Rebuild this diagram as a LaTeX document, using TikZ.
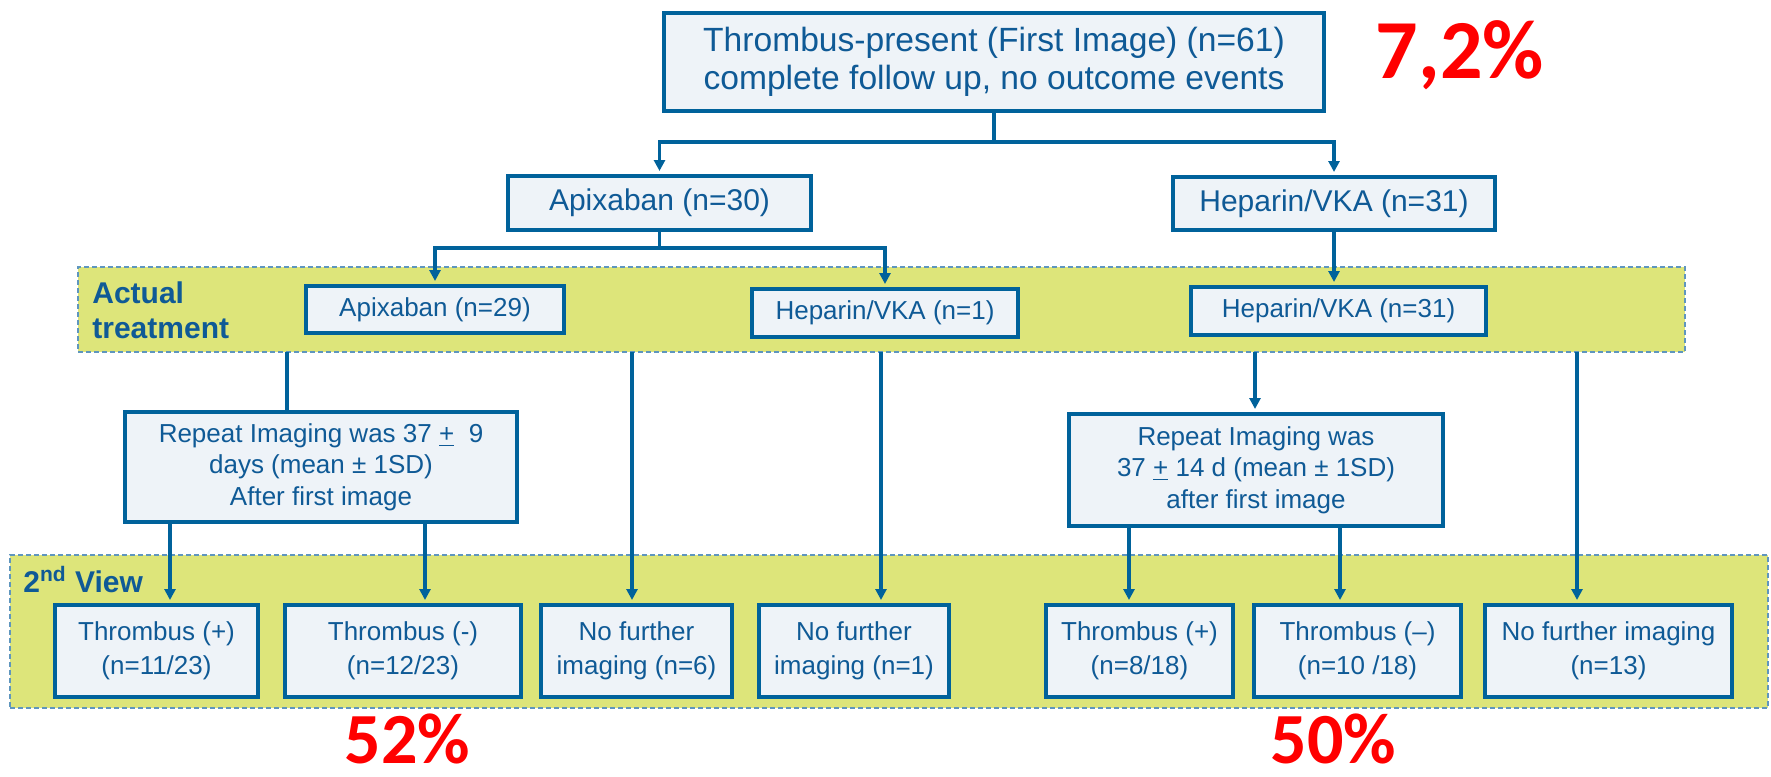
\documentclass[tikz,border=0pt]{standalone}
\usepackage{fontspec}
\setmainfont{Liberation Sans}
\newfontfamily\redfont{Carlito}
\usetikzlibrary{arrows.meta,calc}
\definecolor{bdr}{RGB}{0,98,155}
\definecolor{txt}{RGB}{15,90,150}
\definecolor{boxfill}{RGB}{238,243,248}
\definecolor{bandfill}{RGB}{221,229,122}
\definecolor{banddash}{RGB}{95,150,190}
\definecolor{pct}{RGB}{255,0,0}
\begin{document}
\begin{tikzpicture}[x=0.5pt,y=-0.5pt,
 box/.style={draw=bdr, line width=2pt, fill=boxfill, text=txt, inner sep=0pt, align=center},
 band/.style={draw=banddash, line width=0.8pt, dash pattern=on 2.5pt off 1.5pt, fill=bandfill, inner sep=0pt},
 conn/.style={draw=bdr, line width=1.6pt},
 arr/.style={conn, -{Triangle[length=5.5pt,width=5.5pt]}, shorten >=1.5pt},
 fsmall/.style={font=\fontsize{13}{17}\selectfont},
 frep/.style={font=\fontsize{13}{15.75}\selectfont},
 fmid/.style={font=\fontsize{15}{18}\selectfont},
 ftop/.style={font=\fontsize{16.8}{19}\selectfont},
 lbl/.style={text=txt, inner sep=0pt, align=left, font=\bfseries\fontsize{15}{17.5}\selectfont},
 pcttext/.style={text=pct, inner sep=0pt, anchor=base}
]
\useasboundingbox (0,0) rectangle (1771,776);

% bands
\node[band, minimum width=803.5pt, minimum height=42.5pt] (band1) at (881.5,309.5) {};
\node[band, minimum width=879pt, minimum height=76.5pt] (band2) at (889,631.5) {};

% labels
\node[lbl, anchor=west] (act) at (92,310) {Actual\\treatment};
\node[lbl, anchor=base west] (view) at (23,592) {2\textsuperscript{nd} View};

% boxes
\node[box, ftop, minimum width=330pt, minimum height=49pt] (top) at (994,62)
  {Thrombus-present (First Image) (n=61)\\complete follow up, no outcome events};
\node[box, fmid, minimum width=151.5pt, minimum height=27pt] (apix30) at (659.5,203) {Apixaban (n=30)};
\node[box, fmid, minimum width=161pt, minimum height=26.5pt] (hep31) at (1334,203.5) {Heparin/VKA (n=31)};
\node[box, fsmall, minimum width=129pt, minimum height=23.5pt] (apix29) at (435,309.5) {Apixaban (n=29)};
\node[box, fsmall, minimum width=133pt, minimum height=24pt] (hep1) at (885,313) {Heparin/VKA (n=1)};
\node[box, fsmall, minimum width=147.5pt, minimum height=24pt] (hep31b) at (1338.5,311) {Heparin/VKA (n=31)};
\node[box, frep, minimum width=196pt, minimum height=55pt] (repL) at (321,467)
  {Repeat Imaging was 37 \underline{+}\ \ 9\\days (mean ± 1SD)\\After first image};
\node[box, frep, minimum width=187pt, minimum height=56pt] (repR) at (1256,470)
  {Repeat Imaging was\\37 \underline{+} 14 d (mean ± 1SD)\\after first image};
\node[box, fsmall, minimum width=101.5pt, minimum height=46pt] (b1) at (156.5,651) {Thrombus (+)\\(n=11/23)};
\node[box, fsmall, minimum width=118pt, minimum height=46pt] (b2) at (403,651) {Thrombus (-)\\(n=12/23)};
\node[box, fsmall, minimum width=95.5pt, minimum height=46pt] (b3) at (636.5,651) {No further\\imaging (n=6)};
\node[box, fsmall, minimum width=95pt, minimum height=46pt] (b4) at (854,651) {No further\\imaging (n=1)};
\node[box, fsmall, minimum width=93.5pt, minimum height=46pt] (b5) at (1139.5,651) {Thrombus (+)\\(n=8/18)};
\node[box, fsmall, minimum width=103.5pt, minimum height=46pt] (b6) at (1357.5,651) {Thrombus (–)\\(n=10 /18)};
\node[box, fsmall, minimum width=123.5pt, minimum height=46pt] (b7) at (1608.5,651) {No further imaging\\(n=13)};

% percentages
\node[pcttext, font=\redfont\bfseries\fontsize{42}{42}\selectfont] (p72) at (1460,78) {7,2\%};
\node[pcttext, font=\redfont\bfseries\fontsize{36}{36}\selectfont] (p52) at (407.5,763) {52\%};
\node[pcttext, font=\redfont\bfseries\fontsize{36}{36}\selectfont] (p50) at (1333.5,763) {50\%};

% connectors level 1
\coordinate (j1) at (994,142);
\draw[conn] (top.south) -- (j1);
\draw[arr] (j1) -| (apix30.north);
\draw[arr] (j1) -| (hep31.north);

% level 2
\coordinate (j2) at (659.5,248);
\draw[conn] (apix30.south) -- (j2);
\draw[arr] (j2) -| (apix29.north);
\draw[arr] (j2) -| (hep1.north);
\draw[arr] (hep31.south) -- (hep31.south |- hep31b.north);

% from band 1 bottom
\coordinate (s1) at (287,352);
\coordinate (s2) at (632,352);
\coordinate (s3) at (881,352);
\coordinate (s4) at (1255,352);
\coordinate (s5) at (1577,352);
\draw[conn] (s1) -- (s1 |- repL.north);
\draw[arr] (s2) -- (s2 |- b3.north);
\draw[arr] (s3) -- (s3 |- b4.north);
\draw[arr] (s4) -- (s4 |- repR.north);
\draw[arr] (s5) -- (s5 |- b7.north);

% from repeat boxes
\draw[arr] (repL.south -| 170,0) -- (b1.north -| 170,0);
\draw[arr] (repL.south -| 425,0) -- (b2.north -| 425,0);
\draw[arr] (repR.south -| 1129,0) -- (b5.north -| 1129,0);
\draw[arr] (repR.south -| 1340,0) -- (b6.north -| 1340,0);
\end{tikzpicture}
\end{document}
